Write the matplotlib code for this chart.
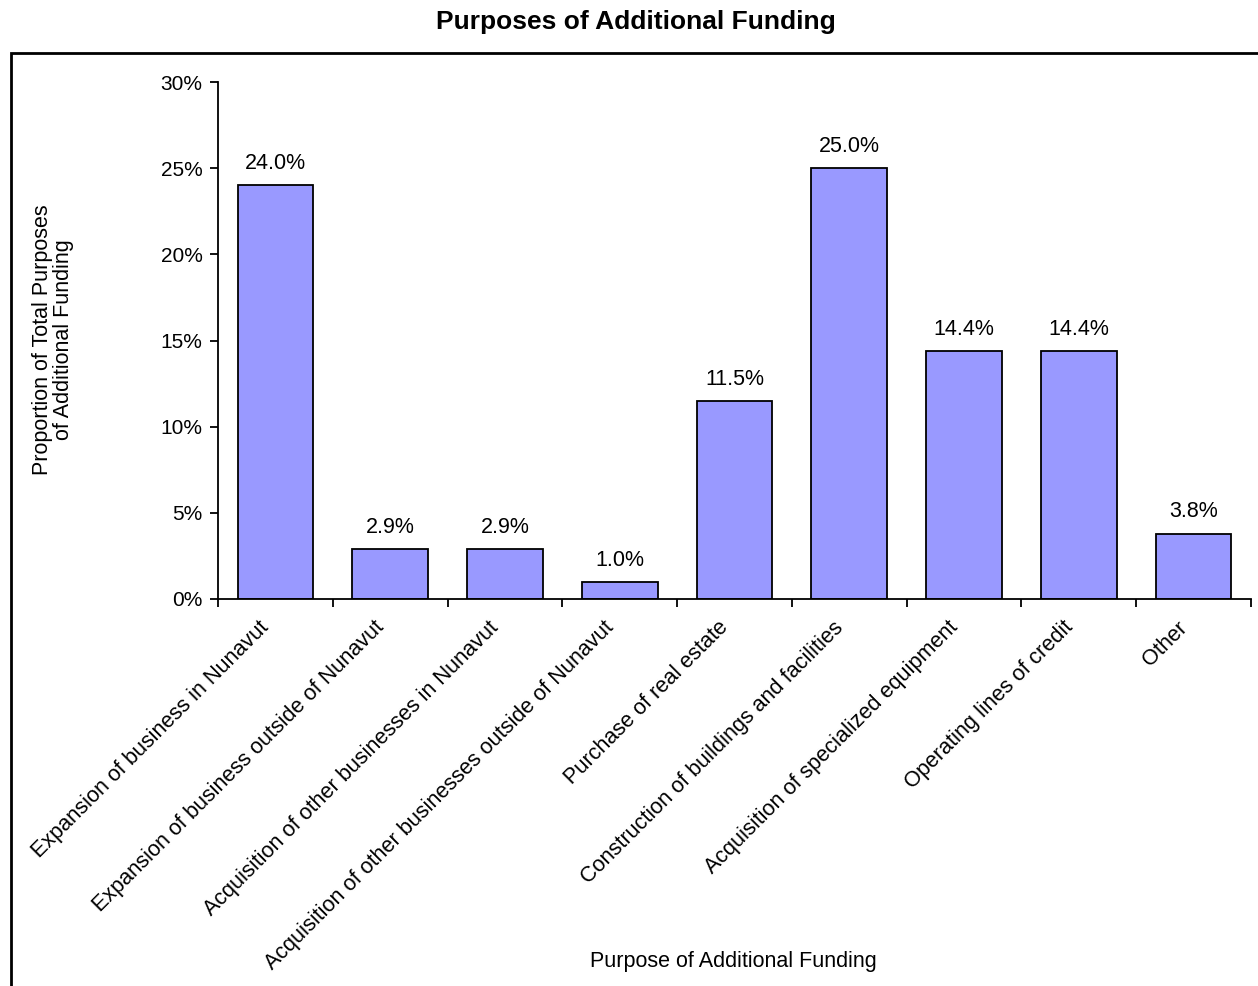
import matplotlib.pyplot as plt
from matplotlib.patches import Rectangle
from matplotlib.ticker import FuncFormatter, FixedLocator
from matplotlib.transforms import offset_copy

plt.rcParams['font.family'] = ['Liberation Sans', 'DejaVu Sans']

# Purposes of additional funding and their share (%)
purposes = [
    "Expansion of business in Nunavut",
    "Expansion of business outside of Nunavut",
    "Acquisition of other businesses in Nunavut",
    "Acquisition of other businesses outside of Nunavut",
    "Purchase of real estate",
    "Construction of buildings and facilities",
    "Acquisition of specialized equipment",
    "Operating lines of credit",
    "Other",
]
shares = [24.0, 2.9, 2.9, 1.0, 11.5, 25.0, 14.4, 14.4, 3.8]
y_ticks = [0, 5, 10, 15, 20, 25, 30]

fig = plt.figure(figsize=(12.58, 9.86), dpi=100)
ax = fig.add_axes([218 / 1258, 1 - 599 / 986, (1251 - 218) / 1258, (599 - 82) / 986])

positions = [i + 0.5 for i in range(len(shares))]
ax.bar(positions, shares, width=0.66, color='#9999FF',
       edgecolor='black', linewidth=1.3, zorder=2)

for pos, val in zip(positions, shares):
    ax.annotate(f'{val:.1f}%', (pos, val), xytext=(0, 8), textcoords='offset points',
                ha='center', va='bottom', fontsize=15.5)

ax.set_xlim(0, len(shares))
ax.set_ylim(0, 30)
ax.yaxis.set_major_locator(FixedLocator(y_ticks))
ax.yaxis.set_major_formatter(FuncFormatter(lambda v, p: f'{v:.0f}%'))
ax.tick_params(axis='y', direction='out', length=6, width=1.3, labelsize=15, pad=5)

# category boundary ticks on the x axis
ax.set_xticks(range(len(shares) + 1))
ax.set_xticklabels([])
ax.tick_params(axis='x', direction='out', length=6, width=1.3)

# rotated category names, top end just left of each centre
lab_trans = offset_copy(ax.get_xaxis_transform(), fig=fig, x=-12, y=-13, units='points')
for pos, name in zip(positions, purposes):
    ax.text(pos, 0, name, transform=lab_trans, rotation=45, ha='right', va='top',
            rotation_mode='anchor', fontsize=15.6)

for side in ['top', 'right']:
    ax.spines[side].set_visible(False)
for side in ['left', 'bottom']:
    ax.spines[side].set_linewidth(1.3)

fig.text(53 / 1258, 1 - 340 / 986, 'Proportion of Total Purposes\nof Additional Funding',
         rotation=90, ha='center', va='center', fontsize=15.5, linespacing=1.05)
fig.text(733 / 1258, 1 - 961 / 986, 'Purpose of Additional Funding',
         ha='center', va='center', fontsize=15.5)
fig.text(636 / 1258, 1 - 22 / 986, 'Purposes of Additional Funding',
         ha='center', va='center', fontsize=19, fontweight='bold')

# chart frame, running off the right and bottom edges
fig.patches.append(Rectangle((11 / 1258, -0.05), 1.2, 1 - 53 / 986 + 0.05,
                             transform=fig.transFigure, fill=False,
                             edgecolor='black', linewidth=2))

fig.savefig('out.png', dpi=100)
